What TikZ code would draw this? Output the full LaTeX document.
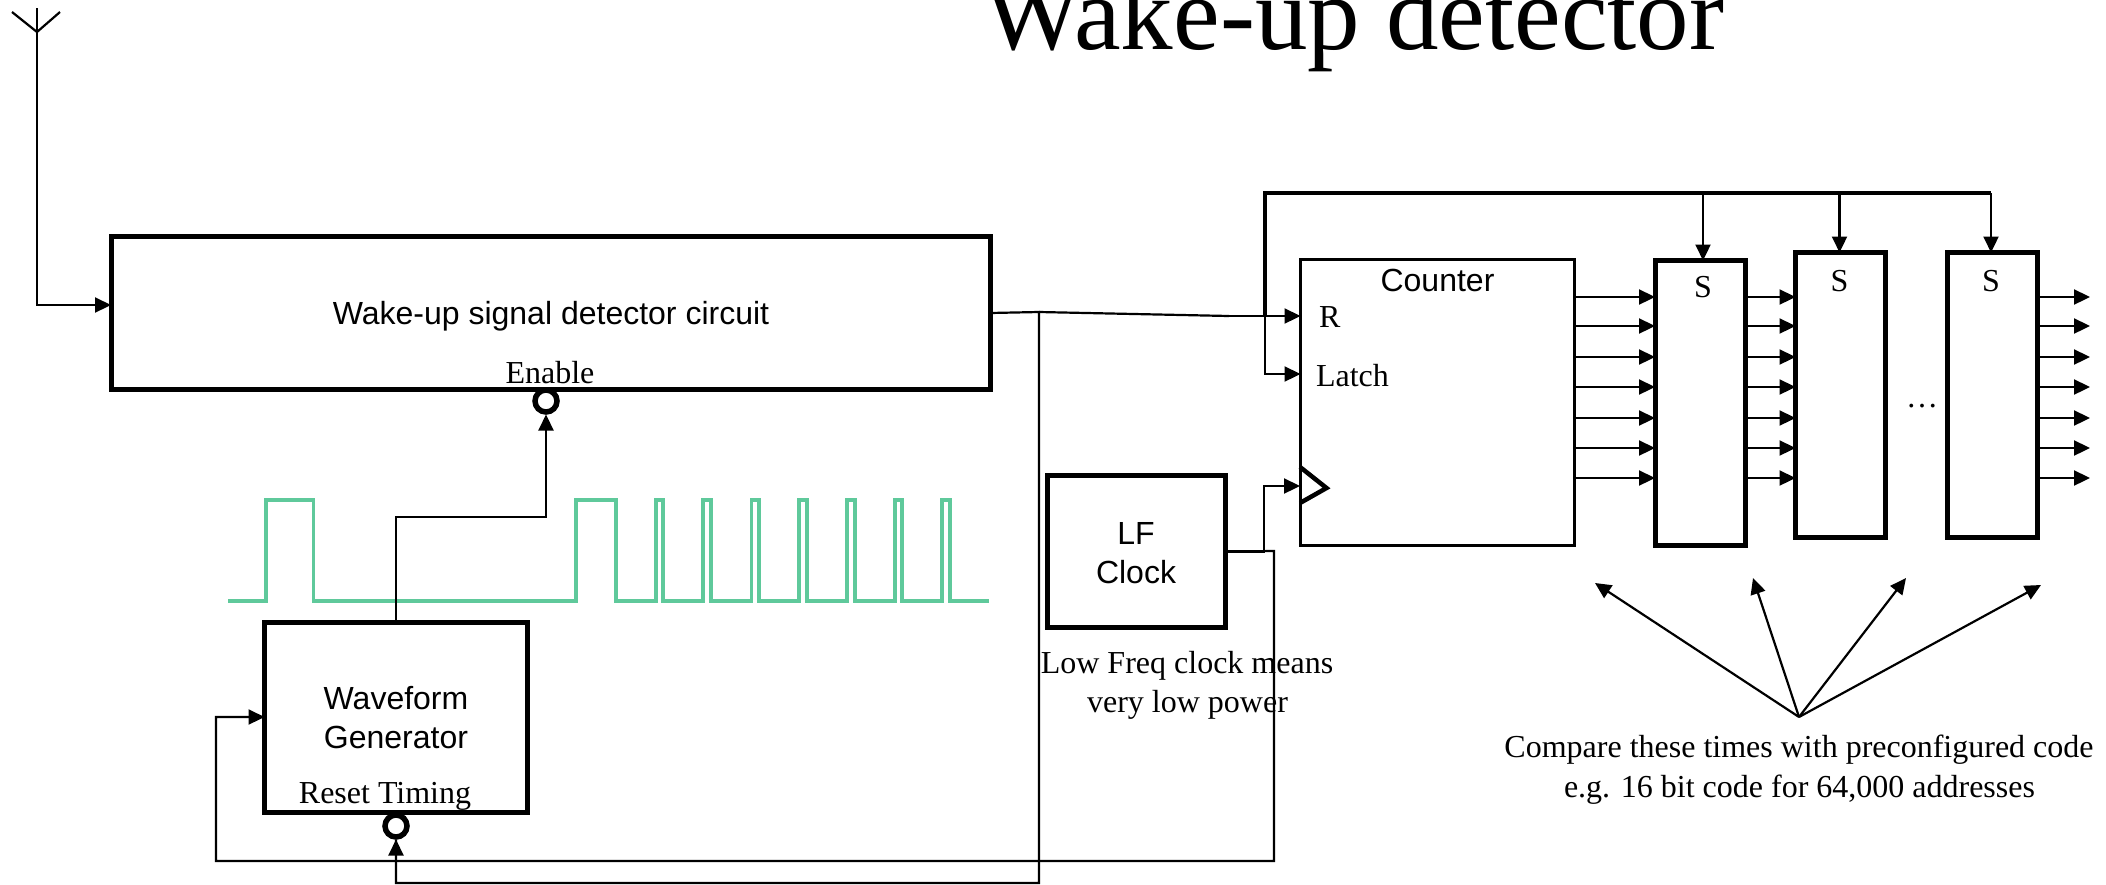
\documentclass[tikz,border=0pt]{standalone}
\usepackage{fontspec}
\setmainfont{Liberation Serif}
\newfontfamily\arialf{Liberation Sans}
\usetikzlibrary{arrows.meta}
\definecolor{wavegreen}{HTML}{5FC99B}
\tikzset{
  wire/.style={draw=black,line width=2.2pt,-{Triangle[length=16pt,width=15pt]}},
  plainwire/.style={draw=black,line width=2.2pt},
  thickbox/.style={draw=black,line width=5pt,rectangle,inner sep=0pt,outer sep=0pt},
  thinbox/.style={draw=black,line width=2.5pt,rectangle,inner sep=0pt,outer sep=0pt},
  bubble/.style={draw=black,line width=5.5pt,circle,fill=white,minimum size=22pt,inner sep=0pt,outer sep=2.5pt},
  serif/.style={inner sep=0pt,outer sep=0pt,anchor=base,font=\fontsize{32}{39}\selectfont},
  sans/.style={inner sep=0pt,outer sep=0pt,anchor=base,font=\arialf\fontsize{32}{39}\selectfont},
  pulse/.style={draw=wavegreen,line width=3.5pt,line join=miter},
}
\begin{document}
\begin{tikzpicture}[x=1pt,y=-1pt]
\useasboundingbox (0,0) rectangle (2106,884);
\clip (0,0) rectangle (2106,884);
\fill[white] (0,0) rectangle (2106,884);

% title
\node[inner sep=0pt,anchor=base,font=\fontsize{105}{110}\selectfont] (title) at (1354,49) {Wake-up detector};

% waveform
\draw[pulse] (228,601) -- (266,601) -- (266,500) -- (313.5,500) -- (313.5,601) -- (576,601) -- (576,500) -- (616,500) -- (616,601)
  -- (656,601) -- (656,500) -- (663,500) -- (663,601)
  -- (703,601) -- (703,500) -- (711,500) -- (711,601)
  -- (751.5,601) -- (751.5,500) -- (759,500) -- (759,601)
  -- (799,601) -- (799,500) -- (807,500) -- (807,601)
  -- (847,601) -- (847,500) -- (855,500) -- (855,601)
  -- (895,601) -- (895,500) -- (902,500) -- (902,601)
  -- (942,601) -- (942,500) -- (950,500) -- (950,601) -- (989,601);

% blocks
\node[thickbox,minimum width=879pt,minimum height=153pt] (det) at (550.5,313) {};
\node[thickbox,minimum width=263pt,minimum height=190pt] (wave) at (396,717) {};
\node[thickbox,minimum width=178pt,minimum height=152pt] (lf) at (1136.5,551.5) {};
\node[thinbox,minimum width=274pt,minimum height=286pt] (cnt) at (1437.5,402.5) {};
\node[thickbox,minimum width=90pt,minimum height=285pt] (s1) at (1700,403) {};
\node[thickbox,minimum width=90pt,minimum height=285pt] (s2) at (1840.5,395) {};
\node[thickbox,minimum width=90pt,minimum height=285pt] (s3) at (1992,395) {};
\node[bubble] (en) at (546,401) {};
\node[bubble] (rs) at (396,826) {};

% labels
\node[sans] (detl) at (551,324) {Wake-up signal detector circuit};
\node[sans] (wavel1) at (396,709.5) {Waveform};
\node[sans] (wavel2) at (396,748.5) {Generator};
\node[sans] (lfl1) at (1136,544) {LF};
\node[sans] (lfl2) at (1136,583) {Clock};
\node[serif] (enl) at (550,383.5) {Enable};
\node[serif] (rsl) at (385,803.5) {Reset Timing};
\node[sans] (cntl) at (1437.5,291) {Counter};
\node[serif,anchor=base west] (rl) at (1319,327.5) {R};
\node[serif,anchor=base west] (ll) at (1316,386) {Latch};
\node[serif] (s1l) at (1703,297) {S};
\node[serif] (s2l) at (1839.5,291) {S};
\node[serif] (s3l) at (1991,291) {S};
\node[serif] (dots) at (1922,407) {\dots};
\node[serif] (lowf1) at (1187,673) {Low Freq clock means};
\node[serif] (lowf2) at (1187.5,712) {very low power};
\node[serif] (cmp1) at (1799,757) {Compare these times with preconfigured code};
\node[serif] (cmp2) at (1799.5,797) {e.g. 16 bit code for 64,000 addresses};

% antenna
\coordinate (anttop) at (37,8);
\coordinate (antb) at (37,32);
\coordinate (antl) at (12,12);
\coordinate (antr) at (60,12);
\coordinate (antin) at (37,305);
\draw[plainwire] (antl) -- (antb) -- (antr);
\draw[wire] (anttop) -- (antin) -- (antin -| det.west);

% enable and reset
\coordinate (enk) at (546,517);
\draw[wire] (wave.north) |- (enk) -- (en.south);
\coordinate (rk) at (1039,883);
\coordinate (rj) at (1039,312);
\draw[plainwire] (det.east) -- (rj) -- (rk) -| (rs.south);
\draw[wire] (rs.south |- rk) -- (rs.south);

% detector to counter
\coordinate (rin) at (cnt.west |- 0,316);
\coordinate (rk2) at (1229,316);
\draw[plainwire] (rj) -- (rk2);
\draw[wire] (rk2) -- (rin);
\coordinate (bus) at (1265,193);
\coordinate (latch) at (cnt.west |- 0,374);
\draw[wire] (bus |- rin) -- (bus |- latch) -- (latch);
\draw[plainwire,line width=3.2pt] (bus |- rin) -- (bus) -- (1991,193);
\draw[wire] (bus -| s1l) -- (s1l |- s1.north);
\draw[wire] (bus -| s2l) -- (s2l |- s2.north);
\draw[wire] (bus -| s3l) -- (s3l |- s3.north);

% clock
\coordinate (ck1) at (1264,486);
\coordinate (ck2) at (1300,486);
\draw[wire] (lf.east) -| (ck1) -- (ck2);
\coordinate (fb1) at (1274,551);
\coordinate (fb2) at (1274,861);
\coordinate (fb3) at (216,861);
\draw[plainwire] (lf.east) -- (fb1) -- (fb2) -- (fb3) |- (wave.west);
\draw[wire] (fb3 |- wave.west) -- (wave.west);
\coordinate (tria) at (1300,467);
\coordinate (trib) at (1326.5,488);
\coordinate (tric) at (1300,503);
\draw[draw=black,line width=4.5pt] (tria) -- (trib) -- (tric);

% buses
\foreach \i/\y in {1/297,2/326,3/357,4/387,5/418,6/448,7/478}{
  \coordinate (r\i) at (0,\y);
  \draw[wire] (cnt.east |- r\i) -- (s1.west |- r\i);
  \draw[wire] (s1.east |- r\i) -- (s2.west |- r\i);
  \coordinate (o\i) at (2090,\y);
  \draw[wire] (s3.east |- r\i) -- (o\i);
}

% compare arrows
\coordinate (hub) at (1799,717);
\coordinate (t1) at (1595,583);
\coordinate (t2) at (1753,578);
\coordinate (t3) at (1906,578);
\coordinate (t4) at (2041,585);
\foreach \t in {t1,t2,t3,t4}{\draw[wire] (hub) -- (\t);}
\end{tikzpicture}
\end{document}
